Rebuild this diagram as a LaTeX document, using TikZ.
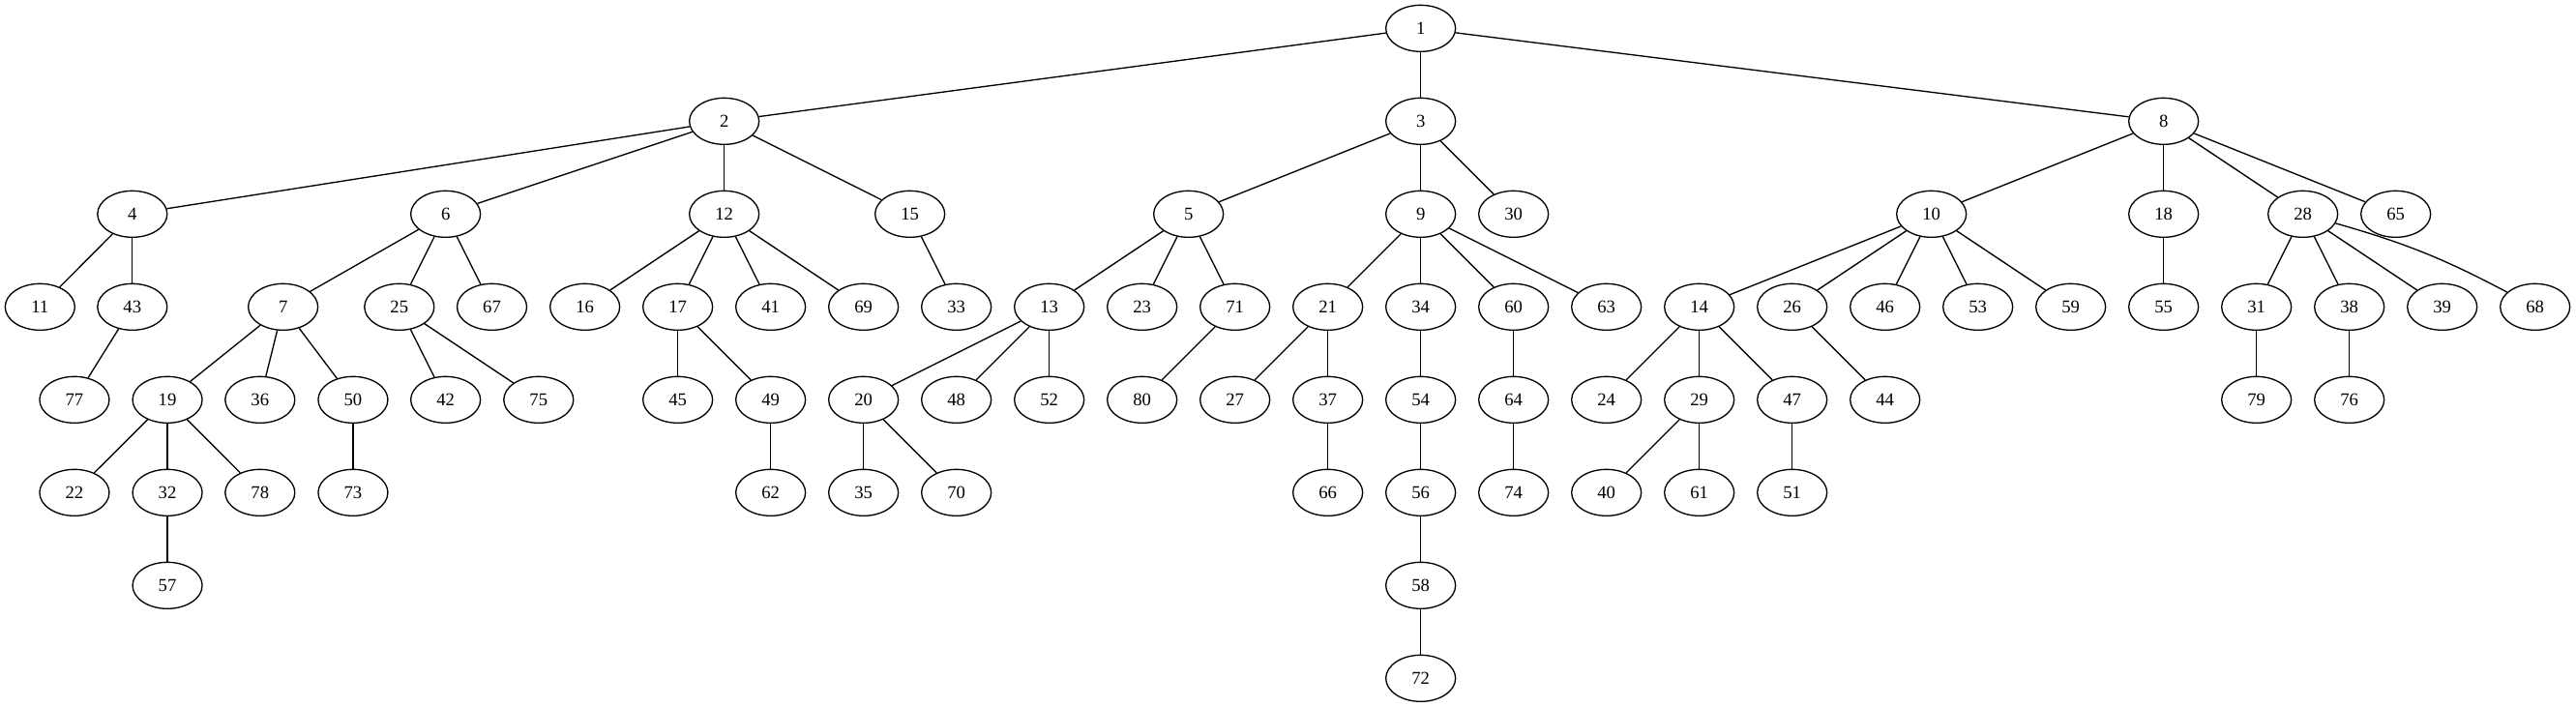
\documentclass[tikz,border=0pt]{standalone}
\usepackage{fontspec}
\setmainfont{Liberation Serif}
\usetikzlibrary{shapes.geometric}
\tikzset{
  nd/.style={draw, ellipse, line width=1pt, minimum width=54pt, minimum height=36pt, inner sep=0pt, font=\fontsize{14}{16}\selectfont},
  ed/.style={line width=1pt}
}
\begin{document}
\begin{tikzpicture}[x=1pt,y=1pt]
\useasboundingbox (0,0) rectangle (1997.25,-548.25);
% rank 0
\node[nd] (n1) at (1101.5,-22) {1};
% rank 1
\node[nd] (n2) at (561.5,-94) {2};
\node[nd] (n3) at (1101.5,-94) {3};
\node[nd] (n8) at (1677.5,-94) {8};
% rank 2
\node[nd] (n4) at (102.6,-166) {4};
\node[nd] (n6) at (345.5,-166) {6};
\node[nd] (n12) at (561.5,-166) {12};
\node[nd] (n15) at (705.5,-166) {15};
\node[nd] (n5) at (921.5,-166) {5};
\node[nd] (n9) at (1101.5,-166) {9};
\node[nd] (n30) at (1173.5,-166) {30};
\node[nd] (n10) at (1497.5,-166) {10};
\node[nd] (n18) at (1677.5,-166) {18};
\node[nd] (n28) at (1785.5,-166) {28};
\node[nd] (n65) at (1857.5,-166) {65};
% rank 3
\node[nd] (n11) at (31,-238) {11};
\node[nd] (n43) at (102.6,-238) {43};
\node[nd] (n7) at (219.5,-238) {7};
\node[nd] (n25) at (309.6,-238) {25};
\node[nd] (n67) at (381.4,-238) {67};
\node[nd] (n16) at (453.5,-238) {16};
\node[nd] (n17) at (525.5,-238) {17};
\node[nd] (n41) at (597.5,-238) {41};
\node[nd] (n69) at (669.5,-238) {69};
\node[nd] (n33) at (741.5,-238) {33};
\node[nd] (n13) at (813.5,-238) {13};
\node[nd] (n23) at (885.5,-238) {23};
\node[nd] (n71) at (957.5,-238) {71};
\node[nd] (n21) at (1029.5,-238) {21};
\node[nd] (n34) at (1101.5,-238) {34};
\node[nd] (n60) at (1173.5,-238) {60};
\node[nd] (n63) at (1245.5,-238) {63};
\node[nd] (n14) at (1317.5,-238) {14};
\node[nd] (n26) at (1389.5,-238) {26};
\node[nd] (n46) at (1461.5,-238) {46};
\node[nd] (n53) at (1533.5,-238) {53};
\node[nd] (n59) at (1605.5,-238) {59};
\node[nd] (n55) at (1677.5,-238) {55};
\node[nd] (n31) at (1749.5,-238) {31};
\node[nd] (n38) at (1821.5,-238) {38};
\node[nd] (n39) at (1893.5,-238) {39};
\node[nd] (n68) at (1965.5,-238) {68};
% rank 4
\node[nd] (n77) at (57.7,-310) {77};
\node[nd] (n19) at (129.8,-310) {19};
\node[nd] (n36) at (201.6,-310) {36};
\node[nd] (n50) at (273.7,-310) {50};
\node[nd] (n42) at (345.5,-310) {42};
\node[nd] (n75) at (417.6,-310) {75};
\node[nd] (n45) at (525.5,-310) {45};
\node[nd] (n49) at (597.5,-310) {49};
\node[nd] (n20) at (669.5,-310) {20};
\node[nd] (n48) at (741.5,-310) {48};
\node[nd] (n52) at (813.5,-310) {52};
\node[nd] (n80) at (885.5,-310) {80};
\node[nd] (n27) at (957.5,-310) {27};
\node[nd] (n37) at (1029.5,-310) {37};
\node[nd] (n54) at (1101.5,-310) {54};
\node[nd] (n64) at (1173.5,-310) {64};
\node[nd] (n24) at (1245.5,-310) {24};
\node[nd] (n29) at (1317.5,-310) {29};
\node[nd] (n47) at (1389.5,-310) {47};
\node[nd] (n44) at (1461.5,-310) {44};
\node[nd] (n79) at (1749.5,-310) {79};
\node[nd] (n76) at (1821.5,-310) {76};
% rank 5
\node[nd] (n22) at (57.7,-382) {22};
\node[nd] (n32) at (129.8,-382) {32};
\node[nd] (n78) at (201.6,-382) {78};
\node[nd] (n73) at (273.7,-382) {73};
\node[nd] (n62) at (597.5,-382) {62};
\node[nd] (n35) at (669.5,-382) {35};
\node[nd] (n70) at (741.5,-382) {70};
\node[nd] (n66) at (1029.5,-382) {66};
\node[nd] (n56) at (1101.5,-382) {56};
\node[nd] (n74) at (1173.5,-382) {74};
\node[nd] (n40) at (1245.5,-382) {40};
\node[nd] (n61) at (1317.5,-382) {61};
\node[nd] (n51) at (1389.5,-382) {51};
% rank 6
\node[nd] (n57) at (129.8,-454) {57};
\node[nd] (n58) at (1101.5,-454) {58};
% rank 7
\node[nd] (n72) at (1101.5,-526) {72};
% edges
\foreach \a/\b in {1/2,1/3,1/8,
  2/4,2/6,2/12,2/15,
  3/5,3/9,3/30,
  8/10,8/18,8/28,8/65,
  4/11,4/43,
  6/7,6/25,6/67,
  12/16,12/17,12/41,12/69,
  15/33,
  5/13,5/23,5/71,
  9/21,9/34,9/60,9/63,
  10/14,10/26,10/46,10/53,10/59,
  18/55,
  28/31,28/38,28/39,
  43/77,
  7/19,7/36,7/50,
  25/42,25/75,
  17/45,17/49,
  13/20,13/48,13/52,
  71/80,
  21/27,21/37,
  34/54,60/64,
  14/24,14/29,14/47,
  26/44,31/79,38/76,
  19/22,19/32,19/78,
  50/73,49/62,
  20/35,20/70,
  37/66,54/56,64/74,
  29/40,29/61,
  47/51,32/57,56/58,58/72}
  \draw[ed] (n\a) -- (n\b);
\draw[ed] (n28) to[bend left=6] (n68);
\end{tikzpicture}
\end{document}
